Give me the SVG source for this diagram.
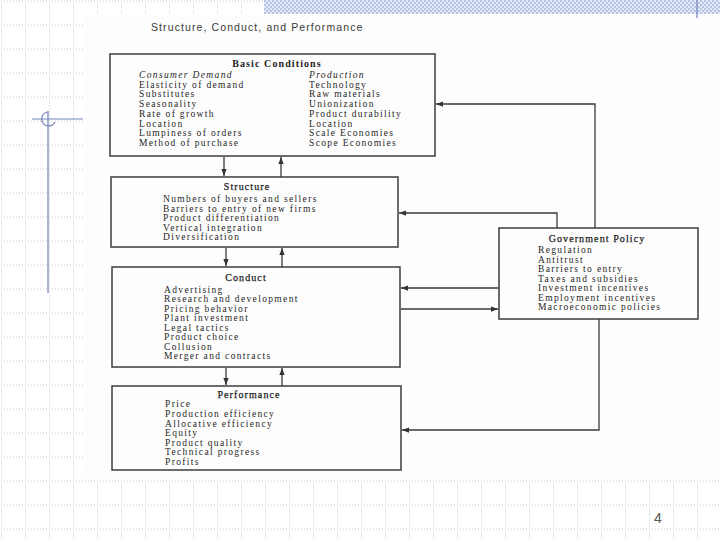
<svg xmlns="http://www.w3.org/2000/svg" width="720" height="540" viewBox="0 0 720 540">
<defs>
<pattern id="grid" width="24" height="24" patternUnits="userSpaceOnUse" x="1" y="0.5">
<line x1="0.5" y1="0" x2="0.5" y2="24" stroke="#c4c4c4" stroke-width="1" stroke-dasharray="1 2"/>
<line x1="0" y1="0.5" x2="24" y2="0.5" stroke="#c4c4c4" stroke-width="1" stroke-dasharray="1 2"/>
</pattern>
<pattern id="check" width="4" height="4" patternUnits="userSpaceOnUse">
<rect width="4" height="4" fill="#e4e9f6"/>
<rect width="2" height="2" fill="#b7c4e6"/>
<rect x="2" y="2" width="2" height="2" fill="#b7c4e6"/>
</pattern>
<marker id="ah" viewBox="0 0 8 6" refX="8" refY="3" markerWidth="7" markerHeight="5.5" markerUnits="userSpaceOnUse" orient="auto">
<path d="M0,0 L8,3 L0,6 z" fill="#333"/>
</marker>
</defs>
<style>
.box{fill:none;stroke:#3c3c3c;stroke-width:1.5}
.t{font-family:"Liberation Serif","Times New Roman",serif;font-size:9.5px;letter-spacing:1.35px;fill:#262626}
.h{font-family:"Liberation Serif","Times New Roman",serif;font-size:10px;letter-spacing:1.1px;fill:#1e1e1e;text-anchor:middle;stroke:#1e1e1e;stroke-width:0.25}
.b{font-weight:bold;stroke:none}
.i{font-style:italic}
.c{fill:none;stroke:#3a3a3a;stroke-width:1.3;marker-end:url(#ah)}
.deco{stroke:#7384bb;stroke-width:1.2;fill:none}
</style>
<rect width="720" height="540" fill="#ffffff"/>
<rect width="720" height="540" fill="url(#grid)"/>
<rect x="264" y="0" width="456" height="14" fill="url(#check)"/>
<rect x="85" y="14" width="635" height="465" fill="#fdfdfd"/>
<line x1="697" y1="0" x2="697" y2="18" class="deco"/>
<g id="decoration">
<line x1="32" y1="119" x2="83" y2="119" class="deco"/>
<line x1="48" y1="111" x2="48" y2="293" class="deco"/>
<path d="M48,112 A7,7 0 1 0 55,122" class="deco"/>
</g>
<text x="151" y="31" style="font-family:'Liberation Sans',Arial,sans-serif;font-size:10.5px;letter-spacing:1.1px;fill:#3a3a3a">Structure, Conduct, and Performance</text>

<g id="connectors">
<line x1="224" y1="157" x2="224" y2="176" class="c"/>
<line x1="281" y1="177" x2="281" y2="157" class="c"/>
<line x1="226" y1="248" x2="226" y2="266" class="c"/>
<line x1="282" y1="267" x2="282" y2="248" class="c"/>
<line x1="226" y1="368" x2="226" y2="385" class="c"/>
<line x1="282" y1="386" x2="282" y2="368" class="c"/>
<polyline points="595,228 595,104 436,104" class="c"/>
<polyline points="557,228 557,213 399,213" class="c"/>
<line x1="499" y1="288" x2="401" y2="288" class="c"/>
<line x1="401" y1="309" x2="498" y2="309" class="c"/>
<polyline points="599,319 599,430 402,430" class="c"/>
</g>

<g id="basic-conditions">
<rect x="110" y="54" width="325" height="102" class="box"/>
<text x="277" y="67" class="h b">Basic Conditions</text>
<text x="139" y="78" class="t i">Consumer Demand</text>
<text x="139" y="87.7" class="t">Elasticity of demand</text>
<text x="139" y="97.4" class="t">Substitutes</text>
<text x="139" y="107.1" class="t">Seasonality</text>
<text x="139" y="116.9" class="t">Rate of growth</text>
<text x="139" y="126.6" class="t">Location</text>
<text x="139" y="136.3" class="t">Lumpiness of orders</text>
<text x="139" y="146" class="t">Method of purchase</text>
<text x="309" y="78" class="t i">Production</text>
<text x="309" y="87.7" class="t">Technology</text>
<text x="309" y="97.4" class="t">Raw materials</text>
<text x="309" y="107.1" class="t">Unionization</text>
<text x="309" y="116.9" class="t">Product durability</text>
<text x="309" y="126.6" class="t">Location</text>
<text x="309" y="136.3" class="t">Scale Economies</text>
<text x="309" y="146" class="t">Scope Economies</text>
</g>

<g id="structure">
<rect x="111" y="177" width="287" height="70" class="box"/>
<text x="247" y="190" class="h">Structure</text>
<text x="163" y="202" class="t">Numbers of buyers and sellers</text>
<text x="163" y="211.5" class="t">Barriers to entry of new firms</text>
<text x="163" y="221" class="t">Product differentiation</text>
<text x="163" y="230.5" class="t">Vertical integration</text>
<text x="163" y="240" class="t">Diversification</text>
</g>

<g id="conduct">
<rect x="112" y="267" width="288" height="100" class="box"/>
<text x="246" y="281" class="h">Conduct</text>
<text x="164" y="292.8" class="t">Advertising</text>
<text x="164" y="302.3" class="t">Research and development</text>
<text x="164" y="311.8" class="t">Pricing behavior</text>
<text x="164" y="321.3" class="t">Plant investment</text>
<text x="164" y="330.8" class="t">Legal tactics</text>
<text x="164" y="340.3" class="t">Product choice</text>
<text x="164" y="349.8" class="t">Collusion</text>
<text x="164" y="359.3" class="t">Merger and contracts</text>
</g>

<g id="performance">
<rect x="112" y="386" width="289" height="84" class="box"/>
<text x="249" y="398" class="h">Performance</text>
<text x="165" y="407.3" class="t">Price</text>
<text x="165" y="417" class="t">Production efficiency</text>
<text x="165" y="426.6" class="t">Allocative efficiency</text>
<text x="165" y="436.2" class="t">Equity</text>
<text x="165" y="445.8" class="t">Product quality</text>
<text x="165" y="455.4" class="t">Technical progress</text>
<text x="165" y="465" class="t">Profits</text>
</g>

<g id="government-policy">
<rect x="499" y="228" width="199" height="91" class="box"/>
<text x="597" y="242" class="h">Government Policy</text>
<text x="538" y="253" class="t">Regulation</text>
<text x="538" y="262.5" class="t">Antitrust</text>
<text x="538" y="272" class="t">Barriers to entry</text>
<text x="538" y="281.5" class="t">Taxes and subsidies</text>
<text x="538" y="291" class="t">Investment incentives</text>
<text x="538" y="300.5" class="t">Employment incentives</text>
<text x="538" y="310" class="t">Macroeconomic policies</text>
</g>

<text x="654" y="523" style="font-family:'Liberation Sans',Arial,sans-serif;font-size:14px;fill:#555">4</text>
</svg>
